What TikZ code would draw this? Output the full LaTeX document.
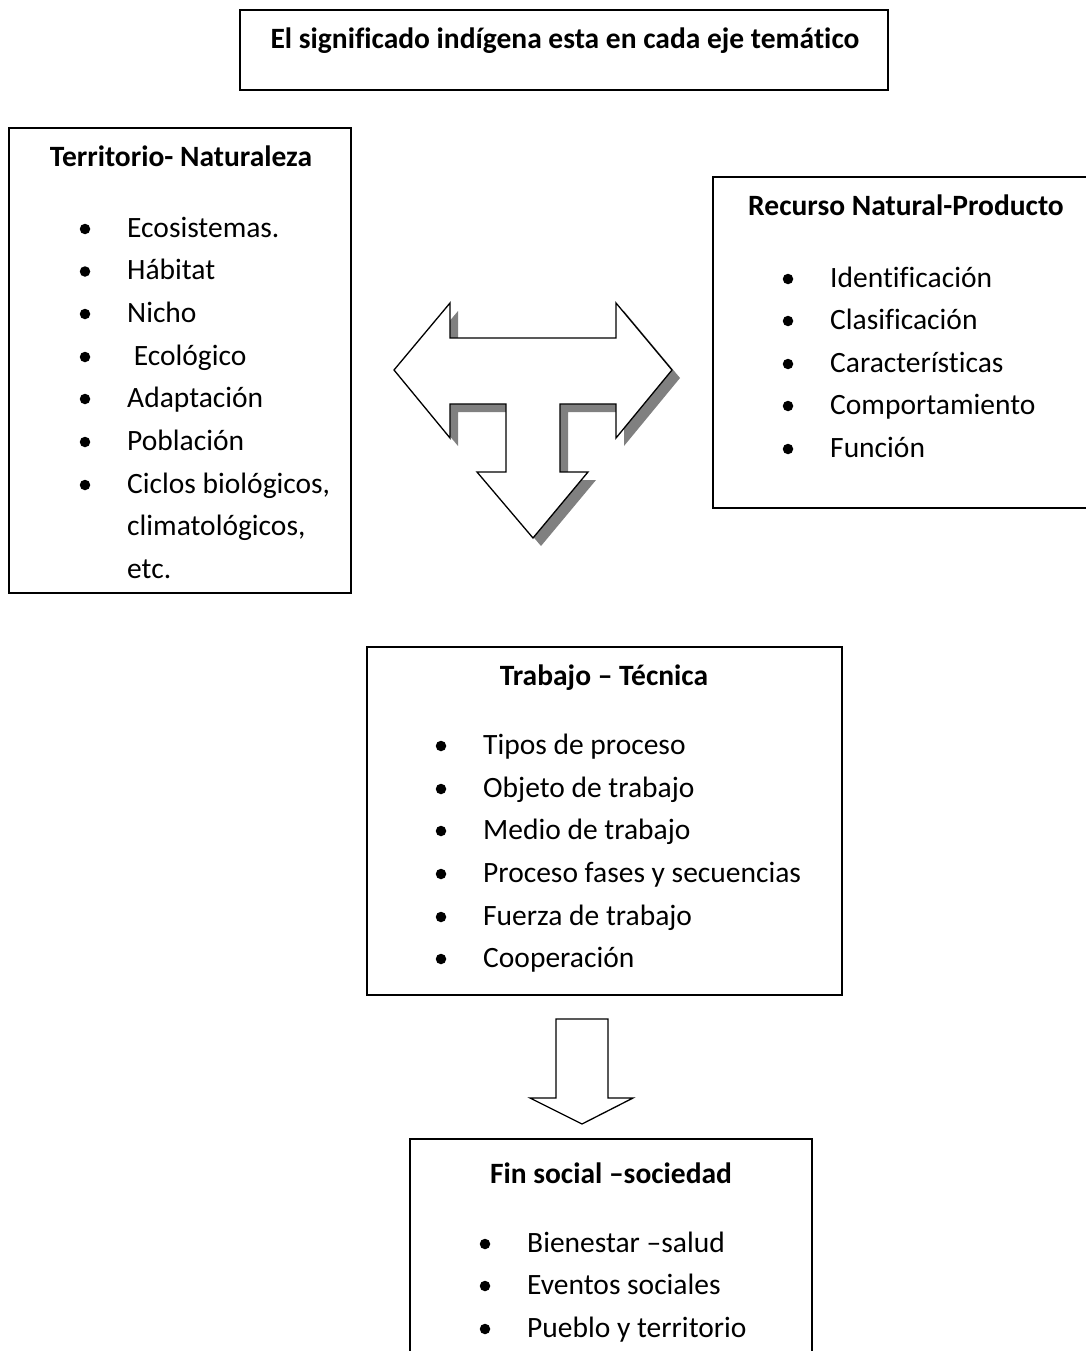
\documentclass[tikz,border=0pt]{standalone}
\usepackage{fontspec}
\setmainfont{Carlito}[Ligatures=NoCommon]
\begin{document}
\begin{tikzpicture}[x=1pt,y=-1pt,
  box/.style={draw=black,line width=1.6pt},
  ttl/.style={anchor=base,font=\fontsize{29.5}{35}\selectfont\bfseries,inner sep=0pt},
  itm/.style={anchor=base west,font=\fontsize{29.5}{35}\selectfont,inner sep=0pt},
  bul/.style={fill=black,circle,inner sep=0pt,minimum size=10.5pt},
  arr/.style={draw=black,line width=1.3pt,fill=white,line join=miter},
  shd/.style={fill=black!50,draw=none}]
\useasboundingbox (0,0) rectangle (1086,1351);
% title box
\draw[box] (240,10) rectangle (888,90);
\node[ttl] (title) at (565,49) {El significado indígena esta en cada eje temático};
% left box
\draw[box] (9,128) rectangle (351,593);
\node[ttl] (lt) at (181,167) {Territorio- Naturaleza};
\foreach \t/\y [count=\i] in {Ecosistemas./237, Hábitat/279.5, Nicho/322, {\ Ecológico}/365, Adaptación/407, Población/450, {Ciclos biológicos,}/493}{
  \node[bul] (lb\i) at (85,\y-8) {};
  \node[itm] (li\i) at (127,\y) {\t};
}
\node[itm] (li8) at (127,535) {climatológicos,};
\node[itm] (li9) at (127,578) {etc.};
% right box
\draw[box] (1092,177) -- (713,177) -- (713,508) -- (1092,508);
\node[ttl] (rt) at (906,215) {Recurso Natural-Producto};
\foreach \t/\y [count=\i] in {Identificación/287, Clasificación/329, Características/372, Comportamiento/414, Función/457}{
  \node[bul] (rb\i) at (788,\y-8) {};
  \node[itm] (ri\i) at (830,\y) {\t};
}
% T arrow
\def\tarrow{(394,370) -- (450,303) -- (450,338) -- (616,338) -- (616,303) -- (672,370) -- (616,438) -- (616,404) -- (560,404) -- (560,472) -- (588,472) -- (533,538) -- (477,472) -- (506,472) -- (506,404) -- (450,404) -- (450,438) -- cycle}
\fill[shd,shift={(8,8)}] \tarrow;
\draw[arr] \tarrow;
% middle box
\draw[box] (367,647) rectangle (842,995);
\node[ttl] (mt) at (604,685) {Trabajo – Técnica};
\foreach \t/\y [count=\i] in {Tipos de proceso/754, Objeto de trabajo/797, Medio de trabajo/839, Proceso fases y secuencias/882, Fuerza de trabajo/925, Cooperación/967}{
  \node[bul] (mb\i) at (441,\y-8) {};
  \node[itm] (mi\i) at (483,\y) {\t};
}
% down arrow
\draw[arr] (556,1019) -- (608,1019) -- (608,1098) -- (633,1098) -- (582,1124) -- (530,1098) -- (556,1098) -- cycle;
% bottom box
\draw[box] (410,1360) -- (410,1139) -- (812,1139) -- (812,1360);
\node[ttl] (bt) at (611,1183) {Fin social –sociedad};
\foreach \t/\y [count=\i] in {Bienestar –salud/1252, Eventos sociales/1294, Pueblo y territorio/1337}{
  \node[bul] (bb\i) at (485,\y-8) {};
  \node[itm] (bi\i) at (527,\y) {\t};
}
\end{tikzpicture}
\end{document}
